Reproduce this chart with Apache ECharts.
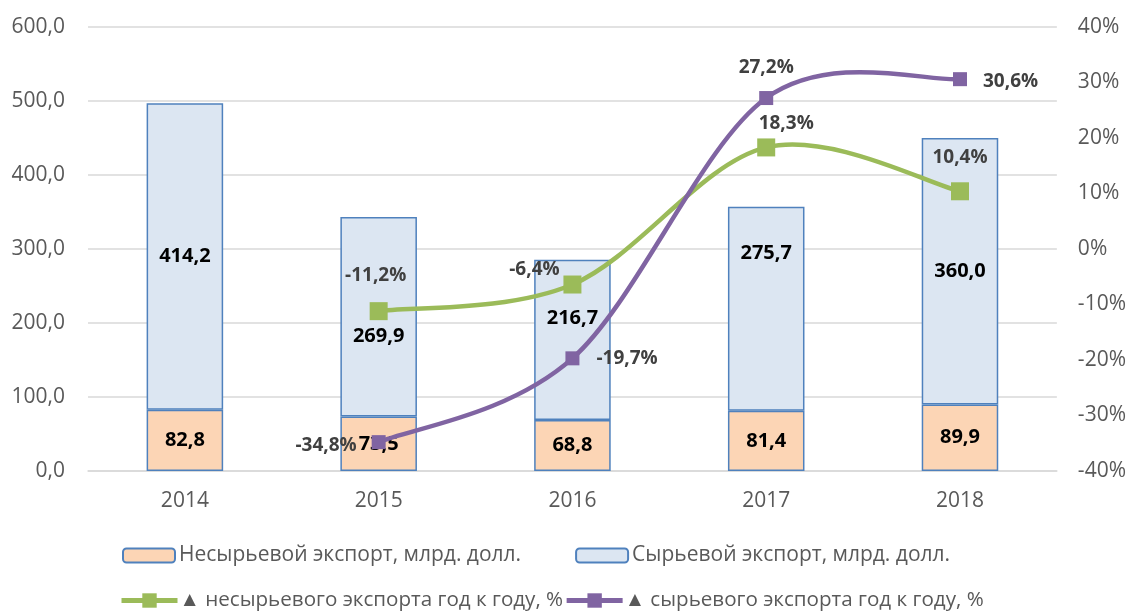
<!DOCTYPE html>
<html><head><meta charset="utf-8">
<script src="https://cdn.jsdelivr.net/npm/echarts@6/dist/echarts.min.js"></script>
<style>html,body{margin:0;padding:0;background:#fff}#c{width:1129px;height:611px}</style>
</head><body><div id="c"></div>
<script>
const years = ['2014','2015','2016','2017','2018'];
const nonRaw = [82.8, 73.5, 68.8, 81.4, 89.9];
const raw = [414.2, 269.9, 216.7, 275.7, 360.0];
const nonRawGrowth = [null, -11.2, -6.4, 18.3, 10.4];
const rawGrowth = [null, -34.8, -19.7, 27.2, 30.6];
const leftTicks = {min: 0, max: 600, interval: 100};
const rightTicks = {min: -40, max: 40, interval: 10};
const names = ['Несырьевой экспорт, млрд. долл.', 'Сырьевой экспорт, млрд. долл.',
  '▲ несырьевого экспорта год к году, %', '▲ сырьевого экспорта год к году, %'];

const FONT = 'Open Sans';
const GREEN = '#9BBB59', PURPLE = '#8064A2';
const fmt1 = v => v.toFixed(1).replace('.', ',');
// label placement (style only)
const rawLabelOffsetY = [0, 20, -22, -55, 0];
const greenLabel = [null, {position:'top', offset:[-3,-12]}, {position:'top', offset:[-38,9]}, {position:'top', offset:[20,0]}, {position:'top', offset:[0,-10]}];
const purpleLabel = [null, {position:'left', offset:[-10,3]}, {position:'right', offset:[12,0]}, {position:'top', offset:[0,-9]}, {position:'right', offset:[11,2]}];
const lineLabelStyle = {show:true, fontFamily:FONT, fontWeight:'bold', fontSize:19, color:'#404040',
  formatter: p => fmt1(p.value) + '%'};

// Excel-like smoothed curve (Catmull-Rom to Bezier) drawn through axis coordinates
function smoothSeries(values, color, z) {
  return {
    type: 'custom', yAxisIndex: 1, z: z, silent: true,
    data: values.map((v, i) => [i, v === null ? 0 : v]),
    renderItem: function (params, api) {
      const i = params.dataIndex;
      if (values[i] === null || i + 1 >= values.length || values[i + 1] === null) return null;
      const pt = k => api.coord([k, values[k]]);
      const p1 = pt(i), p2 = pt(i + 1);
      const p0 = (i - 1 >= 0 && values[i - 1] !== null) ? pt(i - 1) : p1;
      const p3 = (i + 2 < values.length && values[i + 2] !== null) ? pt(i + 2) : p2;
      return {
        type: 'bezierCurve',
        shape: {
          x1: p1[0], y1: p1[1], x2: p2[0], y2: p2[1],
          cpx1: p1[0] + (p2[0] - p0[0]) / 6, cpy1: p1[1] + (p2[1] - p0[1]) / 6,
          cpx2: p2[0] - (p3[0] - p1[0]) / 6, cpy2: p2[1] - (p3[1] - p1[1]) / 6
        },
        style: {stroke: color, lineWidth: 4.5, fill: null, lineCap: 'round'}
      };
    }
  };
}

const chart = echarts.init(document.getElementById('c'));
chart.setOption({
  animation: false,
  grid: {left: 88, right: 72, top: 27, bottom: 140, containLabel: false},
  legend: [
    {data: [names[0], names[1]], left: 122, top: 545, padding: 0, itemWidth: 52, itemHeight: 14, itemGap: 54,
      textStyle: {fontFamily: FONT, fontSize: 21, color: '#595959', padding:[0,0,0,-1]}},
    {data: [{name: names[2], lineStyle: {opacity: 1, width: 5, color: GREEN}},
            {name: names[3], lineStyle: {opacity: 1, width: 5, color: PURPLE}}],
      left: 119, top: 590, padding: 0, itemWidth: 56, itemHeight: 18, itemGap: 1,
      textStyle: {fontFamily: FONT, fontSize: 20.6, color: '#595959', padding:[0,0,0,-3]}}
  ],
  xAxis: {type: 'category', data: years,
    axisLine: {lineStyle: {color: '#D9D9D9', width: 1.5}}, axisTick: {show: false},
    axisLabel: {fontFamily: FONT, fontSize: 21, color: '#595959', margin: 20}},
  yAxis: [
    {type: 'value', min: leftTicks.min, max: leftTicks.max, interval: leftTicks.interval,
      axisLabel: {fontFamily: FONT, fontSize: 21, color: '#595959', margin: 23, formatter: v => fmt1(v)},
      splitLine: {lineStyle: {color: '#D9D9D9', width: 1.5}}, axisLine: {show: false}, axisTick: {show: false}},
    {type: 'value', min: rightTicks.min, max: rightTicks.max, interval: rightTicks.interval, position: 'right',
      axisLabel: {fontFamily: FONT, fontSize: 21, color: '#595959', margin: 21, formatter: '{value}%'},
      splitLine: {show: false}, axisLine: {show: false}, axisTick: {show: false}}
  ],
  series: [
    {name: names[0], type: 'bar', stack: 'exp', data: nonRaw, barWidth: '39.5%',
      itemStyle: {color: '#FCD5B5', borderColor: '#4F81BD', borderWidth: 1.5},
      label: {show: true, position: 'inside', fontFamily: FONT, fontWeight: 'bold', fontSize: 20, color: '#000', formatter: p => fmt1(p.value)}},
    {name: names[1], type: 'bar', stack: 'exp', barWidth: '39.5%',
      data: raw.map((v, i) => ({value: v, label: {offset: [0, rawLabelOffsetY[i]]}})),
      itemStyle: {color: '#DCE6F2', borderColor: '#4F81BD', borderWidth: 1.5},
      label: {show: true, position: 'inside', fontFamily: FONT, fontWeight: 'bold', fontSize: 20, color: '#000', formatter: p => fmt1(p.value)}},
    smoothSeries(nonRawGrowth, GREEN, 5),
    smoothSeries(rawGrowth, PURPLE, 6),
    {name: names[2], type: 'line', yAxisIndex: 1, data: nonRawGrowth.map((v,i)=> v===null ? null : {value: v, label: greenLabel[i]}),
      symbol: 'rect', symbolSize: 18, lineStyle: {color: GREEN, width: 4.5, opacity: 0}, itemStyle: {color: GREEN},
      label: lineLabelStyle, z: 7},
    {name: names[3], type: 'line', yAxisIndex: 1, data: rawGrowth.map((v,i)=> v===null ? null : {value: v, label: purpleLabel[i]}),
      symbol: 'rect', symbolSize: 14, lineStyle: {color: PURPLE, width: 4.5, opacity: 0}, itemStyle: {color: PURPLE},
      label: lineLabelStyle, z: 8}
  ]
});
</script></body></html>
